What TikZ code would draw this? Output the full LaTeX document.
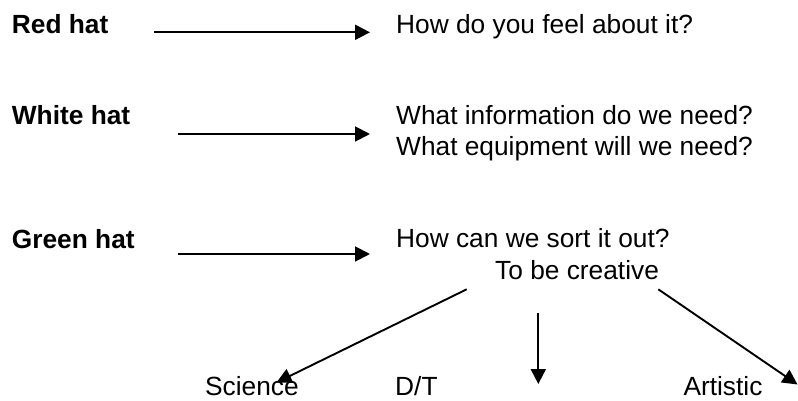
\documentclass[tikz,border=0pt]{standalone}
\usepackage{fontspec}
\setmainfont{Liberation Sans}
\usetikzlibrary{arrows.meta}
\begin{document}
\begin{tikzpicture}[x=1pt,y=-1pt,
  txt/.style={inner sep=0pt,anchor=base west,font=\fontsize{26.3}{30.5}\selectfont},
  hat/.style={txt,font=\fontsize{26.3}{30.5}\selectfont\bfseries},
  low/.style={txt,text depth=0pt},
  arr/.style={line width=1.9pt,-{Triangle[length=15pt,width=15pt]}}]
\useasboundingbox[fill=white] (0,0) rectangle (798,401);
% left labels
\node[hat] (red) at (11.7,33.3) {Red hat};
\node[hat] (white) at (11.7,125) {White hat};
\node[hat] (green) at (11.7,248.3) {Green hat};
% right texts
\node[txt] (q1) at (396,33.3) {How do you feel about it?};
\node[txt] (q2) at (396,125) {What information do we need?};
\node[txt] (q3) at (396,156) {What equipment will we need?};
\node[txt] (q4) at (396,247.7) {How can we sort it out?};
\node[txt] (cr) at (495,279) {To be creative};
\node[low] (sci) at (205,395.5) {Science};
\node[low] (dt) at (395,395.5) {D/T};
\node[low] (art) at (683.3,395.5) {Artistic};
% arrow endpoints
\coordinate (a1s) at (154,32.3);
\coordinate (a1e) at (370,32.3);
\coordinate (a2s) at (178,134);
\coordinate (a2e) at (370,134);
\coordinate (a3s) at (178,254);
\coordinate (a3e) at (370,254);
\coordinate (b1s) at (466.7,289.3);
\coordinate (b1e) at (276.5,382.5);
\coordinate (b2s) at (538.3,313.3);
\coordinate (b2e) at (538.3,384);
\coordinate (b3s) at (658.3,289.3);
\coordinate (b3e) at (797.5,384.5);
% arrows
\draw[arr] (a1s) -- (a1e);
\draw[arr] (a2s) -- (a2e);
\draw[arr] (a3s) -- (a3e);
\draw[arr] (b1s) -- (b1e);
\draw[arr] (b2s) -- (b2e);
\draw[arr] (b3s) -- (b3e);
\end{tikzpicture}
\end{document}
